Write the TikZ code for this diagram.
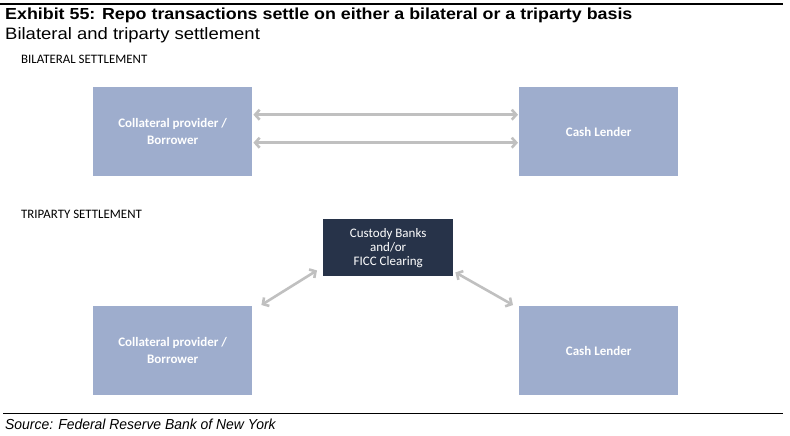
\documentclass[tikz,border=0pt]{standalone}
\usepackage{fontspec}
\setmainfont{Liberation Sans}
\newfontfamily\calfont{Carlito}
\usetikzlibrary{arrows.meta}
\definecolor{AzulCaja}{RGB}{158,173,205}
\definecolor{AzulOscuro}{RGB}{39,51,73}
\definecolor{GrisFlecha}{RGB}{192,192,192}
\tikzset{
  caja/.style={fill=AzulCaja,anchor=north west,minimum width=159pt,minimum height=89pt,
    text=white,align=center,font=\calfont\bfseries\fontsize{13}{17}\selectfont,inner sep=0pt},
  flecha/.style={<->,GrisFlecha,line width=2.6pt},
  seccion/.style={anchor=west,font=\calfont\fontsize{12.9}{14}\selectfont,inner sep=0pt}
}
\begin{document}
\begin{tikzpicture}[>={Straight Barb[length=4.5pt,width=10pt]},x=1pt,y=-1pt]
  \useasboundingbox (0,0) rectangle (790,436);
  % titulo
  \draw[line width=1.2pt] (0,4) -- (783,4);
  \node[anchor=west,inner sep=0pt,font=\bfseries\addfontfeature{FakeStretch=1.115}\fontsize{16}{18}\selectfont] (titulo) at (5,15)
    {Exhibit 55: Repo transactions settle on either a bilateral or a triparty basis};
  \node[anchor=west,inner sep=0pt,font=\addfontfeature{FakeStretch=1.12}\fontsize{16.5}{18}\selectfont] (subtitulo) at (5,35)
    {Bilateral and triparty settlement};
  % bilateral
  \node[seccion] (bil) at (21,59) {BILATERAL SETTLEMENT};
  \node[caja] (cp1) at (93,87) {Collateral provider /\\Borrower};
  \node[caja] (cl1) at (519,87) {Cash Lender};
  \draw[flecha] ([shift={(1,-17)}]cp1.east) -- ([shift={(-1,-17)}]cl1.west);
  \draw[flecha] ([shift={(1,11)}]cp1.east) -- ([shift={(-1,11)}]cl1.west);
  % triparty
  \node[seccion] (tri) at (21,214) {TRIPARTY SETTLEMENT};
  \node[fill=AzulOscuro,anchor=north west,minimum width=130pt,minimum height=57pt,inner sep=0pt,
    text=white,align=center,font=\calfont\fontsize{13}{14}\selectfont] (cb) at (323,219)
    {Custody Banks\\and/or\\FICC Clearing};
  \node[caja] (cp2) at (93,306) {Collateral provider /\\Borrower};
  \node[caja] (cl2) at (519,306) {Cash Lender};
  \draw[flecha] ([shift={(9,-1)}]cp2.north east) -- ([shift={(-6,-6)}]cb.south west);
  \draw[flecha] ([shift={(2,-4)}]cb.south east) -- ([shift={(-6,-1)}]cl2.north west);
  % fuente
  \draw[line width=1pt] (3,413) -- (783,413);
  \node[anchor=west,inner sep=0pt,font=\itshape\addfontfeature{FakeStretch=0.96}\fontsize{14.5}{16}\selectfont] (fuente) at (5,424)
    {Source: Federal Reserve Bank of New York};
\end{tikzpicture}
\end{document}
